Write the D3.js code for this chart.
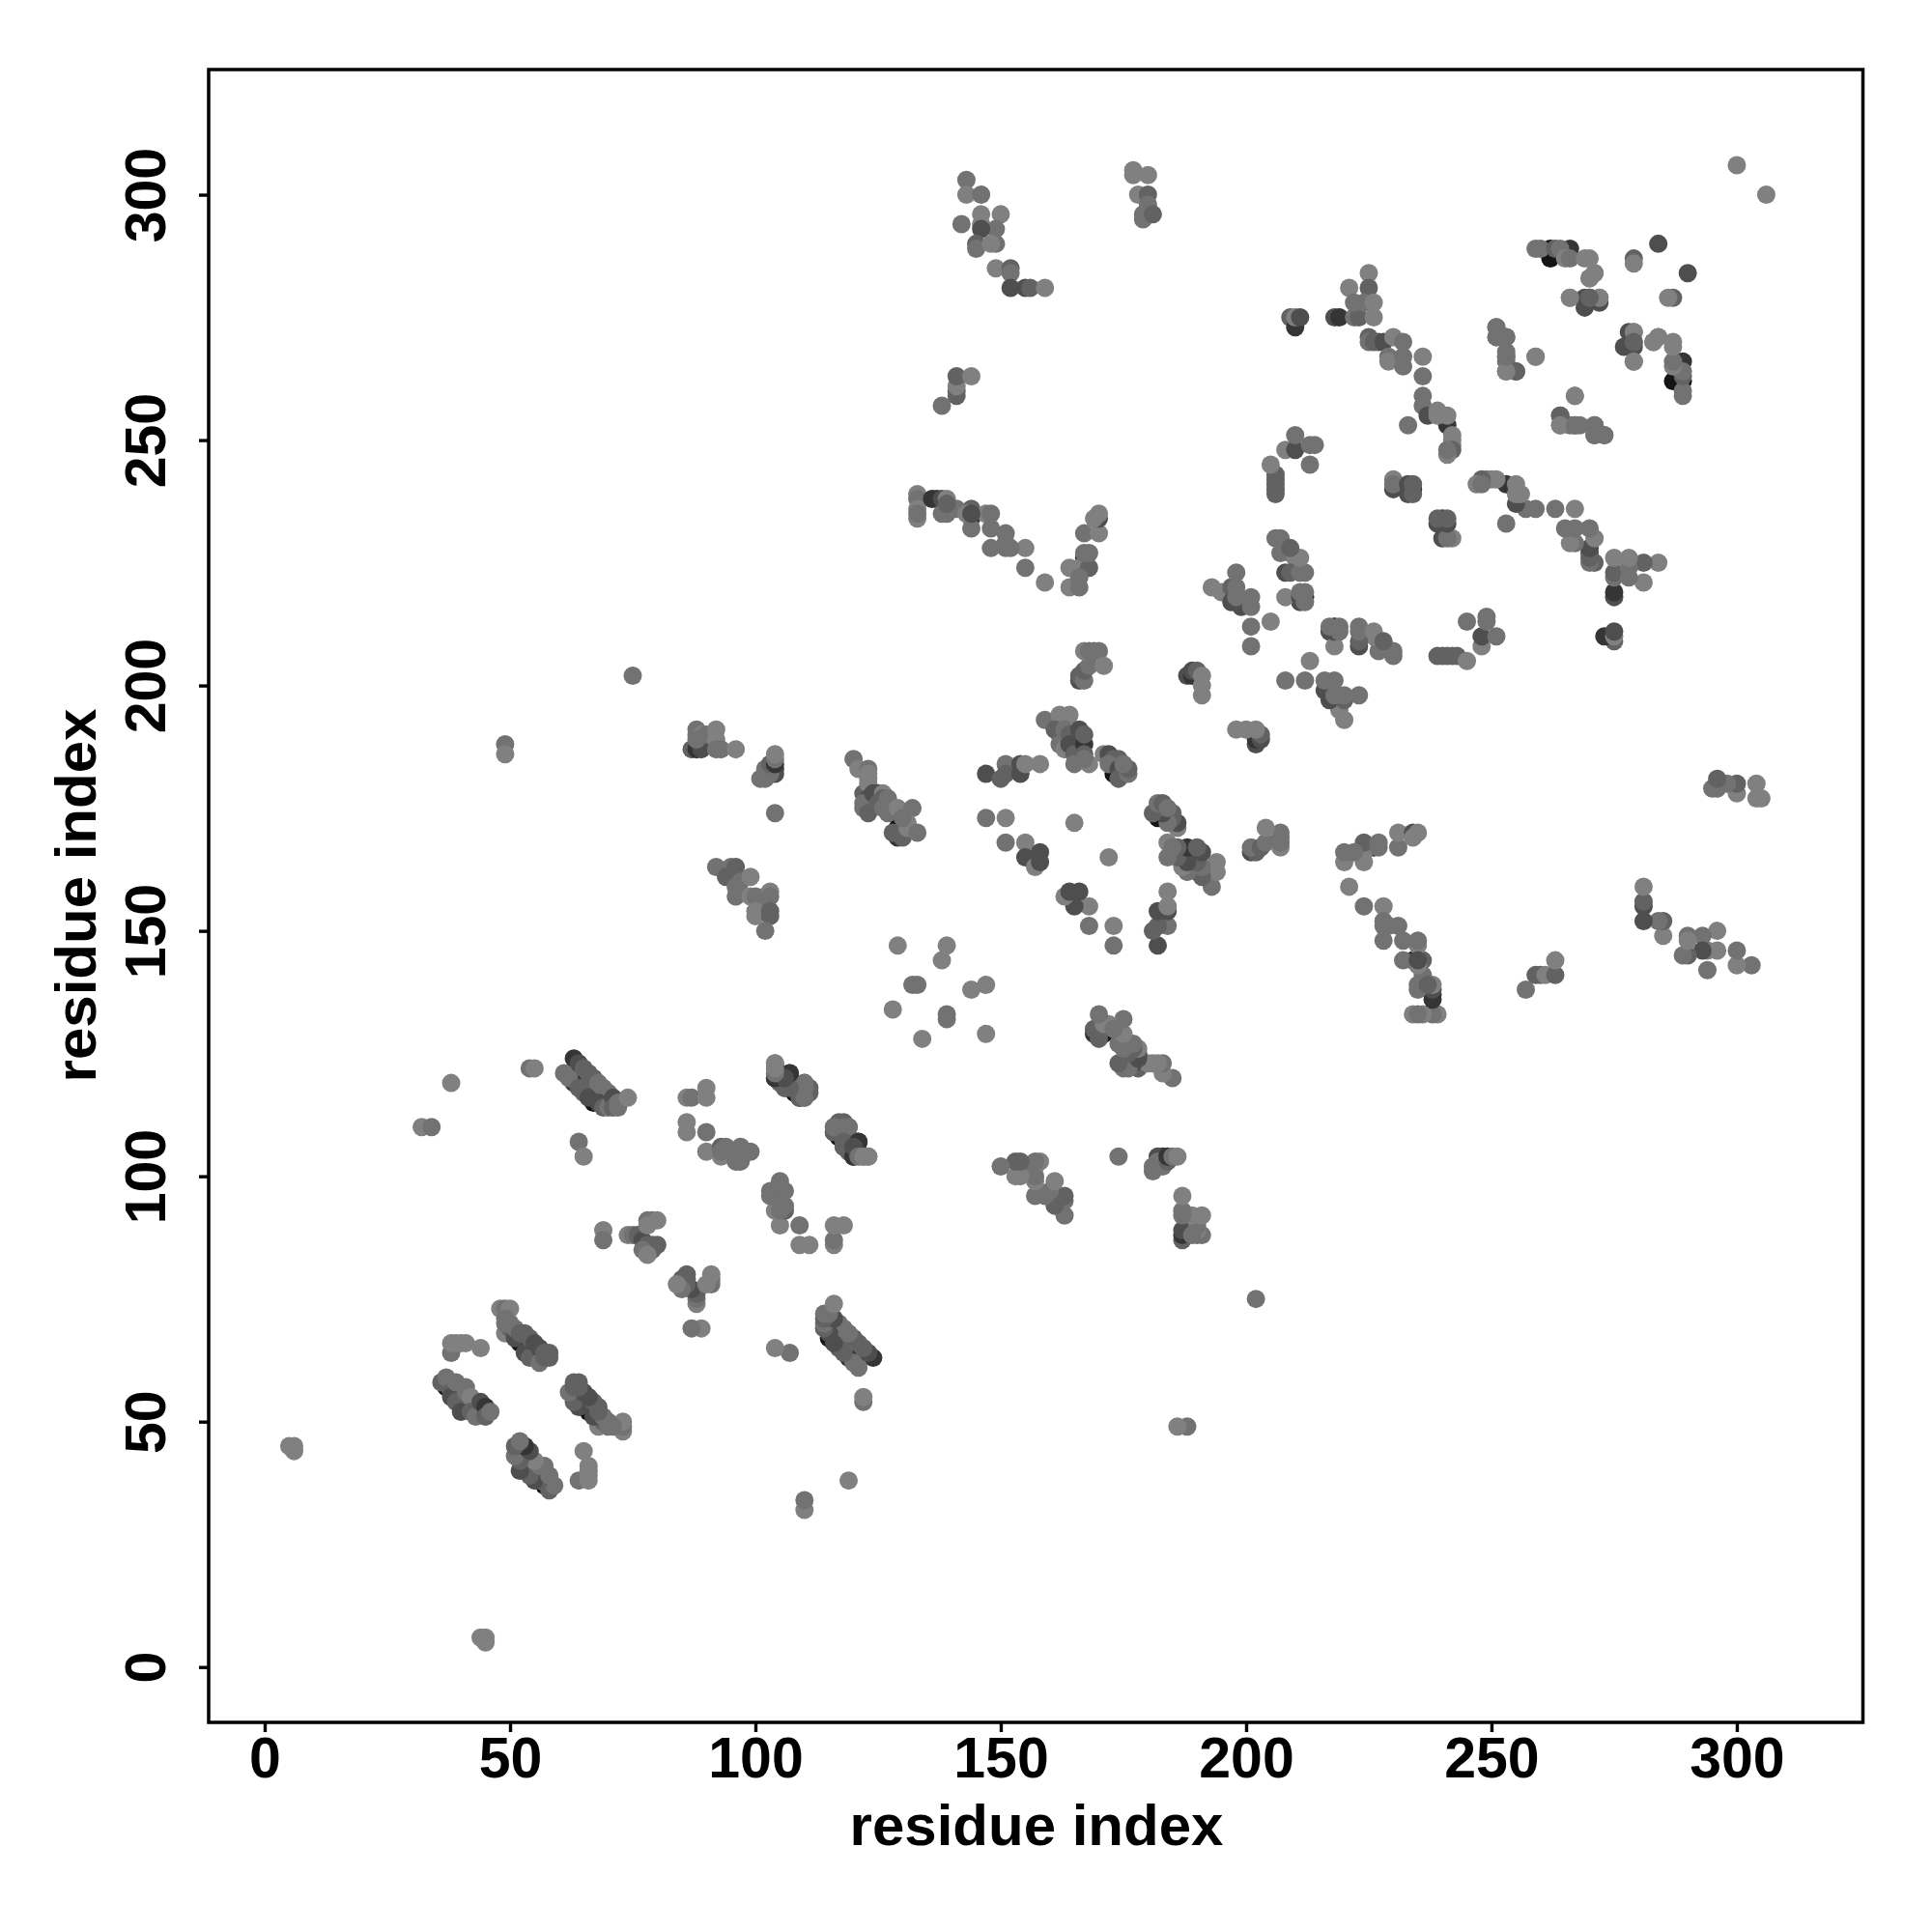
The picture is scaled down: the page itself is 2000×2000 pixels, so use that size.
<!DOCTYPE html>
<html><head><meta charset="utf-8">
<style>html,body{margin:0;padding:0;background:#fff}svg{display:block}</style>
<script src="https://cdnjs.cloudflare.com/ajax/libs/d3/7.8.5/d3.min.js"></script>
</head><body><div id="chart"></div>
<script>
// Contacts [residue i, residue j, strength]; the map is symmetric, so each pair is listed once.
const isolated = [[5,45,0],[6,44,0],[6,45,0],[38,119,0],[32,110,0],[34,110,1],[54,122,1],[55,122,0],[49,188,1],[49,186,0],[75,202,1],[64,107,1],[65,104,0],[300,306,0],[104,174,1],[165,172,0],[201,212,1],[201,208,1],[205,213,0],[233,253,1],[284,290,3]];
const sheetA = [[37,57,5],[40,53,5],[44,52,5],[36,58,2],[37,59,1],[38,56,2],[38,55,3],[39,54,2],[39,58,1],[40,52,3],[41,57,1],[41,56,1],[42,55,0],[42,52,2],[43,51,1],[44,54,3],[45,53,4],[45,51,2],[46,52,1]];
const sheetB = [[38,64,1],[38,66,0],[39,66,0],[40,66,0],[41,66,0],[44,65,0]];
const sheetC = [[52,66,5],[48,73,0],[49,73,1],[50,73,0],[49,71,1],[50,70,1],[49,68,0],[50,69,2],[49,70,1],[51,67,3],[51,69,1],[52,68,2],[53,64,3],[54,63,2],[53,68,2],[54,67,2],[55,66,3],[55,63,2],[56,65,3],[56,62,1],[57,64,2],[57,63,2],[58,63,2],[58,64,2]];
const sheetD = [[67,115,5],[63,119,4],[63,124,4],[61,121,1],[62,120,1],[64,118,2],[65,117,2],[66,116,3],[64,123,3],[65,122,2],[66,121,2],[67,120,2],[68,119,1],[69,118,1],[70,117,1],[68,115,3],[69,114,2],[70,114,1],[71,116,3],[71,114,2],[72,115,1],[72,114,1],[74,116,0]];
const sheetE = [[69,89,0],[69,87,1],[74,88,0],[75,88,1],[76,88,2],[77,87,3],[78,86,2],[79,86,2],[80,86,2],[79,85,2],[77,85,1],[78,84,0],[78,91,1],[79,91,1],[80,91,0],[78,90,0]];
const sheetF = [[86,116,0],[87,116,1],[90,118,0],[90,116,0],[86,111,0],[86,109,0],[90,109,1],[90,105,0],[93,106,2],[94,106,1],[93,104,0],[93,105,1],[95,105,1],[96,103,1],[97,103,1],[97,106,1],[98,105,1],[99,105,1]];
const sheetG = [[104,120,5],[109,116,5],[104,123,0],[104,122,1],[105,121,4],[106,120,2],[107,121,4],[106,118,1],[107,119,4],[108,117,3],[108,119,3],[110,119,2],[110,116,2],[111,118,2],[111,117,2]];
const sheetH = [[117,108,5],[116,109,2],[117,110,2],[116,110,1],[118,110,1],[119,110,1],[118,107,2],[118,106,2],[119,105,2],[120,104,4],[121,107,4],[120,106,3],[121,104,1],[122,104,0],[123,104,0]];
const sheetI = [[87,187,2],[88,187,4],[89,187,3],[88,191,1],[88,190,1],[89,190,0],[90,190,1],[88,189,1],[92,191,0],[92,189,0],[92,187,1],[93,187,1],[96,187,0]];
const sheetJ = [[104,183,4],[104,182,3],[101,181,1],[102,181,1],[102,183,1],[103,182,1],[103,184,2],[104,184,4],[104,185,1],[104,186,0]];
const sheetK = [[101,154,5],[102,154,3],[92,163,1],[95,163,1],[96,163,2],[94,161,2],[96,161,2],[97,160,1],[96,159,1],[96,157,1],[99,161,0],[99,157,0],[100,157,1],[102,157,1],[103,158,0],[103,157,1],[100,154,0],[100,153,0],[103,153,2],[103,154,2],[102,150,1]];
const sheetL = [[129,171,5],[129,169,4],[122,178,2],[120,185,1],[121,183,0],[123,183,1],[123,182,0],[123,181,0],[123,180,0],[123,177,3],[122,176,1],[122,175,1],[123,175,1],[123,174,2],[124,178,3],[125,178,3],[125,176,2],[126,178,0],[126,177,2],[127,177,1],[126,175,1],[127,174,1],[128,175,1],[129,175,0],[132,175,1],[128,170,2],[130,169,2],[131,172,0],[131,171,0],[130,173,1],[133,170,1]];
const loopA = [[129,147,0],[139,147,0],[138,144,0],[132,139,1],[133,139,1],[128,134,0]];
const sheetM = [[147,182,3],[150,181,2],[151,184,1],[151,182,2],[154,182,3],[154,184,3],[155,184,0],[158,184,0],[147,173,1],[151,173,0],[151,168,1],[155,168,0],[155,165,3],[157,163,0],[158,166,3],[158,164,3]];
const sheetN = [[173,182,5],[166,189,4],[159,193,1],[162,194,0],[164,194,0],[161,191,2],[162,190,2],[163,191,1],[162,188,1],[163,187,0],[164,190,2],[164,188,3],[166,188,3],[165,186,2],[165,184,1],[166,191,3],[167,188,4],[167,190,2],[167,186,2],[168,184,0],[167,185,1],[171,186,0],[172,186,3],[173,185,2],[174,185,2],[172,184,1],[174,183,3],[174,181,2],[175,182,2],[176,182,1],[176,183,2],[175,184,1]];
const sheetO = [[166,201,3],[166,202,2],[167,201,1],[167,203,2],[168,204,1],[167,207,0],[168,207,1],[169,207,1],[170,207,1],[171,204,0]];
const sheetP = [[188,202,3],[189,202,4],[189,203,3],[190,203,2],[191,202,0],[191,200,0],[191,198,0]];
const sheetQ = [[133,239,0],[133,238,1],[133,236,0],[133,234,0],[136,238,4],[137,238,4],[138,238,3],[139,238,0],[138,235,1],[139,235,1],[141,236,1],[144,234,4],[144,236,2],[143,235,0],[144,232,1],[147,235,0],[148,235,1],[148,232,1],[151,231,1],[148,228,1],[151,228,1],[155,228,0],[155,224,1],[159,221,0]];
const sheetR = [[167,226,4],[164,224,0],[166,224,0],[168,224,2],[164,220,0],[166,220,1],[166,222,1],[167,227,1],[168,227,1],[167,231,1],[170,231,0],[170,234,3],[169,234,0],[170,235,0]];
const sheetS = [[143,303,1],[143,300,0],[146,300,1],[150,296,0],[146,296,0],[146,294,0],[142,294,1],[149,293,1],[146,293,3],[145,290,2],[145,289,1],[149,290,1],[148,290,0],[149,285,0],[152,285,2],[152,284,1],[152,281,3],[155,281,3],[156,281,2],[159,281,0]];
const sheetT = [[177,305,0],[177,304,0],[180,304,0],[178,300,0],[180,300,2],[180,298,1],[179,296,1],[179,295,1],[181,296,2]];
const sheetU = [[138,257,1],[141,259,2],[141,260,2],[141,261,0],[141,263,2],[144,263,0]];
const sheetV = [[209,275,2],[210,273,4],[210,275,0],[211,275,3],[218,275,3],[219,275,4],[222,275,1],[223,275,2],[221,281,0],[225,284,0],[225,281,2],[222,278,1],[224,278,1],[226,278,0],[226,275,0]];
const sheetW = [[227,270,3],[225,271,2],[225,270,1],[226,270,2],[228,270,3],[230,271,0],[232,270,1],[229,267,1],[229,266,0],[232,267,1],[232,265,1],[236,267,0]];
const sheetX = [[236,263,1],[236,259,1],[236,257,1],[237,255,3],[239,256,0],[241,253,4],[241,255,0],[242,251,0],[242,250,0],[242,249,0],[242,248,2],[241,247,0],[241,248,1],[239,255,0]];
const sheetY = [[251,273,1],[251,271,0],[253,271,1],[253,267,1],[253,266,1],[253,264,0],[255,264,2],[259,267,0],[267,259,0],[264,255,2],[264,253,0],[267,253,1],[268,253,1],[271,253,1],[271,251,1],[273,251,1]];
const sheetZ = [[262,289,5],[266,289,4],[262,287,5],[260,289,1],[259,289,1],[263,289,2],[264,289,1],[265,287,0],[266,287,1],[269,287,0],[270,287,0],[271,284,0],[270,283,0],[266,279,0],[269,279,3],[269,277,3],[270,279,2],[272,279,0],[272,278,3]];
const sheetZa = [[279,287,2],[279,286,0],[284,271,0],[283,270,0],[279,272,0],[279,270,2],[279,266,0]];
const sheetZb = [[206,239,2],[206,240,2],[206,241,2],[206,242,2],[206,243,2],[205,245,0],[208,248,0],[210,248,3],[210,251,1],[213,249,1],[214,249,1],[213,245,1]];
const sheetZc = [[212,218,5],[211,217,3],[208,223,3],[206,230,1],[207,230,1],[207,227,1],[209,227,1],[210,226,0],[209,223,2],[211,223,1],[212,223,1],[208,218,0],[211,218,3],[212,219,1]];
const sheetZd = [[193,220,0],[195,219,0],[197,220,2],[198,220,1],[198,223,1],[197,217,3],[198,217,3],[199,216,3],[198,218,1],[201,218,1],[201,216,1]];
const sheetZe = [[230,240,3],[234,240,4],[230,242,0],[230,241,1],[233,239,3],[233,241,3],[234,241,2],[234,239,2]];
const sheetZf = [[212,217,1],[211,219,1],[211,226,0],[207,227,2],[209,228,2]];
const sheetZh = [[179,295,2],[178,300,1],[177,304,0]];
const sheetZj = [[152,228,1],[144,235,3],[141,236,2],[139,237,2],[133,235,1],[151,229,1]];
const axisTicks = [0,50,100,150,200,250,300];
const axisLabel = "residue index";

const clusters = [isolated,sheetA,sheetB,sheetC,sheetD,sheetE,sheetF,sheetG,sheetH,sheetI,sheetJ,sheetK,sheetL,loopA,sheetM,sheetN,sheetO,sheetP,sheetQ,sheetR,sheetS,sheetT,sheetU,sheetV,sheetW,sheetX,sheetY,sheetZ,sheetZa,sheetZb,sheetZc,sheetZd,sheetZe,sheetZf,sheetZh,sheetZj];
const seen = new Set();
const contacts = [];
clusters.forEach(c => c.forEach(d => {
  const k = d[0] + "," + d[1];
  if (seen.has(k)) return;
  seen.add(k);
  contacts.push(d);
}));

const W = 2000, H = 2000;
const left = 216, right = 1928.5, top_ = 72, bottom = 1783;
const x = d3.scaleLinear().domain([-11.42, 325.7]).range([left, right]);
const y = d3.scaleLinear().domain([-11.28, 325.5]).range([bottom, top_]);
const grey = d3.scaleLinear().domain([0, 1, 2, 3, 4, 5]).range(["#808080", "#727272", "#626262", "#4e4e4e", "#353535", "#141414"]);

const svg = d3.select("#chart").append("svg").attr("width", W).attr("height", H);
svg.append("rect").attr("width", W).attr("height", H).attr("fill", "#fff");

const marks = [];
contacts.forEach(d => { marks.push({px: d[0], py: d[1], s: d[2]}); marks.push({px: d[1], py: d[0], s: d[2]}); });
svg.append("g").selectAll("circle").data(marks).join("circle")
  .attr("cx", d => x(d.px)).attr("cy", d => y(d.py)).attr("r", 9.5)
  .attr("fill", d => grey(d.s));

svg.append("rect").attr("x", left).attr("y", top_).attr("width", right - left).attr("height", bottom - top_)
  .attr("fill", "none").attr("stroke", "#000").attr("stroke-width", 3.5);

const font = '"Liberation Sans", Arial, sans-serif';
const gx = svg.append("g").attr("transform", `translate(0,${bottom})`)
  .call(d3.axisBottom(x).tickValues(axisTicks).tickSize(10).tickFormat(d3.format("d")));
const gy = svg.append("g").attr("transform", `translate(${left},0)`)
  .call(d3.axisLeft(y).tickValues(axisTicks).tickSize(10).tickFormat(d3.format("d")));
[gx, gy].forEach(g => {
  g.select(".domain").remove();
  g.selectAll("line").attr("stroke", "#000").attr("stroke-width", 3.4);
  g.selectAll("text").attr("font-family", font).attr("font-weight", 700).attr("font-size", 59).attr("fill", "#000");
});
gy.selectAll("text").attr("dy", null).attr("x", 0).attr("y", 0).attr("text-anchor", "middle")
  .attr("transform", "translate(-45,0) rotate(-90)");
gx.selectAll("text").attr("dy", null).attr("y", 0).attr("text-anchor", "middle")
  .attr("transform", "translate(0,57)");

svg.append("text").attr("x", 1073).attr("y", 1910).attr("text-anchor", "middle")
  .attr("font-family", font).attr("font-weight", 700).attr("font-size", 60).text(axisLabel);
svg.append("text").attr("transform", "translate(99,927) rotate(-90)").attr("text-anchor", "middle")
  .attr("font-family", font).attr("font-weight", 700).attr("font-size", 60).text(axisLabel);
</script></body></html>
